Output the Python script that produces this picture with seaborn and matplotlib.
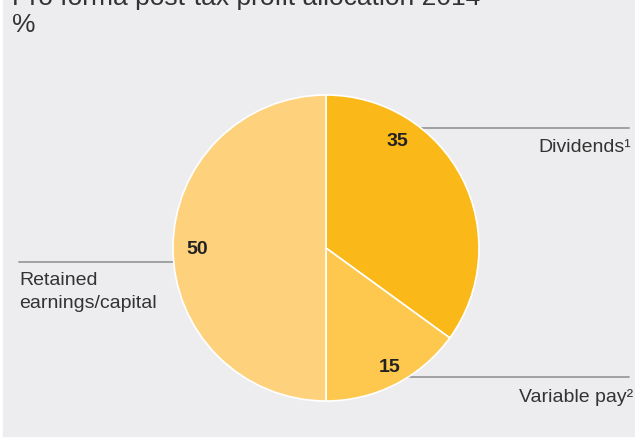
import matplotlib.pyplot as plt
import seaborn as sns
from matplotlib.patches import Rectangle

sns.set_theme(style="white")
plt.rcParams['font.family'] = ['Liberation Sans', 'DejaVu Sans']

# data
labels = ["Dividends\u00b9", "Variable pay\u00b2", "Retained\nearnings/capital"]
values = [35, 15, 50]
colors = ["#FBB919", "#FEC84E", "#FED27D"]

bg = "#EDEDEF"
W, H = 635, 439

fig = plt.figure(figsize=(6.35, 4.39), dpi=100, facecolor="white")
ax = fig.add_axes([0, 0, 1, 1])
ax.add_patch(Rectangle((3, 2), W - 3, H - 2, color=bg, zorder=0))

cx, cy, r = 326, H - 249, 153
wedges, _ = ax.pie(values, colors=colors, startangle=90, counterclock=False,
                   center=(cx, cy), radius=r, frame=True,
                   wedgeprops=dict(edgecolor="white", linewidth=1.2))
ax.set_xlim(0, W)
ax.set_ylim(0, H)
ax.set_aspect("equal")
ax.axis("off")

# value labels
for val, (x, y) in zip(values, [(397, 142), (390, 368), (197, 250)]):
    ax.text(x, H - y, str(val), ha="center", va="center", fontsize=14,
            fontweight="bold", color="#222222")

# leader lines
line_kw = dict(color="#9a9a9a", linewidth=1.3, zorder=0.5)
ax.plot([420, 629], [H - 129, H - 129], **line_kw)
ax.plot([405, 629], [H - 378, H - 378], **line_kw)
ax.plot([19, 180], [H - 263, H - 263], **line_kw)

txt_kw = dict(fontsize=14, color="#333333")
ax.text(631, H - 152, labels[0], ha="right", va="baseline", **txt_kw)
ax.text(633, H - 402, labels[1], ha="right", va="baseline", **txt_kw)
ax.text(19, H - 285, "Retained", ha="left", va="baseline", **txt_kw)
ax.text(19, H - 308, "earnings/capital", ha="left", va="baseline", **txt_kw)

ax.text(12, H - 5, "Pro forma post-tax profit allocation 2014", ha="left",
        va="baseline", fontsize=19, color="#333333")
ax.text(12, H - 32, "%", ha="left", va="baseline", fontsize=19, color="#333333")

fig.savefig("out.png", dpi=100, facecolor="white")
